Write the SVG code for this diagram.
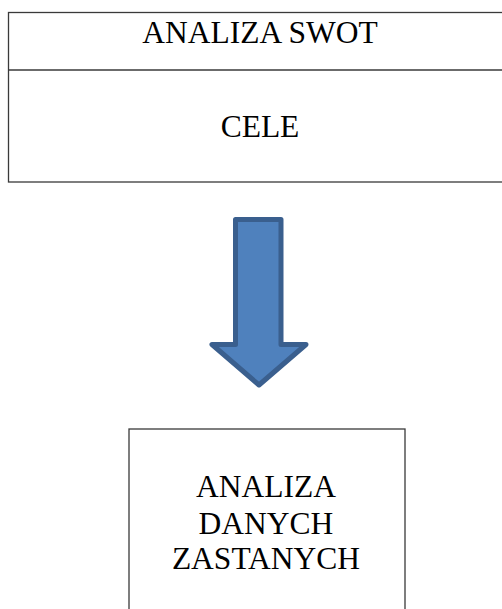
<svg xmlns="http://www.w3.org/2000/svg" width="502" height="609" viewBox="0 0 502 609">
<style>
.box{fill:#fff;stroke:#3a3a3a;stroke-width:1.3}
.t{font-family:'Liberation Serif','Times New Roman',Times,serif;font-size:31.5px;fill:#000;text-anchor:middle}
.arrow{fill:#4f81bd;stroke:#3a5f8e;stroke-width:5;stroke-linejoin:round}
</style>
<rect width="502" height="609" fill="#fff"/>
<g id="node-top">
<rect class="box" x="8.5" y="12.5" width="510" height="169.5"/>
<line x1="8.5" y1="70" x2="502" y2="70" stroke="#3a3a3a" stroke-width="1.3"/>
<text class="t" x="260" y="43">ANALIZA SWOT</text>
<text class="t" x="260" y="137">CELE</text>
</g>
<g id="connectors">
<path class="arrow" d="M235.5,219.5 H281 V344.5 H306 L259,385 L212,344.5 H235.5 Z"/>
</g>
<g id="node-bottom">
<rect class="box" x="129" y="429" width="276" height="200"/>
<text class="t" x="266" y="497">ANALIZA</text>
<text class="t" x="266" y="534">DANYCH</text>
<text class="t" x="266" y="569">ZASTANYCH</text>
</g>
</svg>
